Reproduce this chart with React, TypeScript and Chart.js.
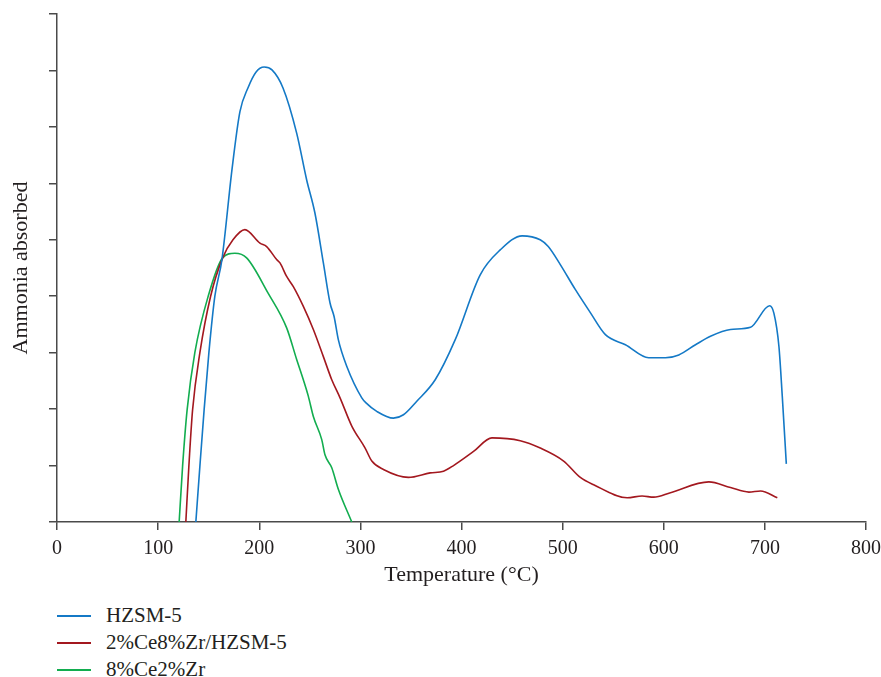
import React, { useEffect, useRef } from "react";
import { Chart, registerables } from "chart.js";

Chart.register(...registerables);

// Temperature (°C) and ammonia absorbed (arbitrary units, y-axis 0–9)
const hzsmT = [137.3, 141.3, 145.5, 150.2, 156.1, 163.1, 173.0, 180.9, 188.8, 196.7, 204.9, 212.6, 223.5, 237.0, 246.9, 255.1, 263.4, 270.0, 274.0, 278.2, 286.5, 301.4, 305.6, 316.2, 332.7, 342.6, 355.8, 374.0, 393.8, 418.5, 438.3, 460.0, 477.8, 485.8, 497.7, 512.5, 527.4, 542.3, 562.1, 585.1, 601.7, 614.9, 631.4, 646.2, 666.0, 685.8, 704.7, 708.9, 713.9, 717.2, 721.2];
const hzsmV = [0, 0.99, 1.99, 3.0, 4.0, 4.65, 6.24, 7.27, 7.69, 7.97, 8.06, 8.01, 7.69, 6.89, 6.06, 5.47, 4.59, 3.88, 3.64, 3.23, 2.76, 2.2, 2.11, 1.96, 1.84, 1.9, 2.14, 2.52, 3.23, 4.38, 4.82, 5.07, 5.0, 4.88, 4.56, 4.12, 3.71, 3.32, 3.14, 2.91, 2.91, 2.96, 3.14, 3.29, 3.41, 3.45, 3.83, 3.7, 3.11, 2.23, 1.03];

const ceZrHzsmT = [127.4, 130.4, 134.1, 141.3, 151.9, 163.8, 174.0, 185.8, 200.7, 207.3, 217.2, 220.5, 227.1, 233.7, 243.6, 253.5, 263.4, 271.7, 279.9, 291.5, 304.7, 311.3, 322.8, 347.5, 369.0, 382.2, 392.1, 411.9, 430.1, 458.1, 477.9, 501.0, 517.5, 530.7, 563.8, 578.6, 590.1, 606.6, 644.6, 666.0, 684.2, 695.7, 712.3];
const ceZrHzsmV = [0, 0.99, 1.99, 3.0, 4.0, 4.68, 5.0, 5.18, 4.94, 4.88, 4.65, 4.59, 4.35, 4.17, 3.82, 3.41, 2.93, 2.52, 2.2, 1.7, 1.31, 1.08, 0.93, 0.79, 0.87, 0.9, 1.0, 1.25, 1.49, 1.44, 1.31, 1.08, 0.79, 0.66, 0.43, 0.46, 0.44, 0.52, 0.71, 0.61, 0.53, 0.55, 0.43];

const ceZrT = [120.8, 124.2, 128.7, 136.3, 149.5, 163.8, 175.9, 187.5, 208.6, 227.1, 237.0, 243.6, 248.5, 253.5, 261.8, 265.0, 271.7, 278.2, 291.5];
const ceZrV = [0, 0.99, 1.99, 3.0, 4.0, 4.68, 4.76, 4.68, 4.06, 3.44, 2.88, 2.52, 2.23, 1.87, 1.46, 1.19, 0.96, 0.58, 0];

const seriesNames = ["HZSM-5", "2%Ce8%Zr/HZSM-5", "8%Ce2%Zr"];
const seriesColors = ["#1479c6", "#a3181f", "#12ad4f"];

const xTitle = "Temperature (°C)";
const yTitle = "Ammonia absorbed";

const FONT = '"Liberation Serif", "Times New Roman", serif';
const AXIS = "#4a4a4a";
const TEXT = "#231f20";

const toPoints = (xs: number[], ys: number[]) => xs.map((x, i) => ({ x, y: ys[i] }));

export default function App() {
  const ref = useRef<HTMLCanvasElement | null>(null);

  useEffect(() => {
    if (!ref.current) return;
    const allX = [hzsmT, ceZrHzsmT, ceZrT];
    const allY = [hzsmV, ceZrHzsmV, ceZrV];
    const chart = new Chart(ref.current, {
      type: "line",
      data: {
        datasets: seriesNames.map((name, i) => ({
          label: name,
          data: toPoints(allX[i], allY[i]),
          borderColor: seriesColors[i],
          backgroundColor: seriesColors[i],
          borderWidth: 1.6,
          pointRadius: 0,
          cubicInterpolationMode: "monotone" as const,
          fill: false,
        })),
      },
      options: {
        animation: false,
        responsive: false,
        maintainAspectRatio: false,
        layout: { padding: { top: 14, left: 0, right: 15, bottom: 0 } },
        plugins: { legend: { display: false }, tooltip: { enabled: false } },
        scales: {
          x: {
            type: "linear",
            min: 0,
            max: 800,
            afterFit: (s: any) => {
              s.height = 78;
              s.paddingLeft = 0;
              s.paddingRight = 0;
            },
            ticks: {
              stepSize: 100,
              padding: 7,
              color: TEXT,
              font: { family: FONT, size: 20 },
              maxRotation: 0,
            },
            grid: {
              drawOnChartArea: false,
              drawTicks: true,
              tickLength: 8,
              tickColor: AXIS,
              lineWidth: 1.5,
            },
            border: { display: true, color: AXIS, width: 1.5 },
            title: {
              display: true,
              text: xTitle,
              color: TEXT,
              font: { family: FONT, size: 22 },
              padding: { top: 0, bottom: 12 },
            },
          },
          y: {
            type: "linear",
            min: 0,
            max: 9,
            afterFit: (s: any) => {
              s.width = 57;
            },
            ticks: { stepSize: 1, display: false },
            grid: {
              drawOnChartArea: false,
              drawTicks: true,
              tickLength: 8,
              tickColor: AXIS,
              lineWidth: 1.5,
            },
            border: { display: true, color: AXIS, width: 1.5 },
            title: {
              display: true,
              text: yTitle,
              color: TEXT,
              font: { family: FONT, size: 22 },
              padding: { top: 8, bottom: 0 },
            },
          },
        },
      },
    });
    return () => chart.destroy();
  }, []);

  const legendY = [616, 643, 670];

  return (
    <div style={{ position: "absolute", left: 0, top: 0, width: 881, height: 677, overflow: "hidden", background: "#fff" }}>
      <canvas ref={ref} width={881} height={600} style={{ display: "block", width: 881, height: 600 }} />
      {seriesNames.map((name, i) => (
        <div key={name}>
          <div
            style={{
              position: "absolute",
              left: 57,
              top: legendY[i] - 1,
              width: 34,
              height: 2,
              background: seriesColors[i],
            }}
          />
          <div
            style={{
              position: "absolute",
              left: 106,
              top: legendY[i] - 13,
              height: 24,
              lineHeight: "24px",
              fontFamily: FONT,
              fontSize: 21,
              color: TEXT,
              whiteSpace: "nowrap",
            }}
          >
            {name}
          </div>
        </div>
      ))}
    </div>
  );
}
